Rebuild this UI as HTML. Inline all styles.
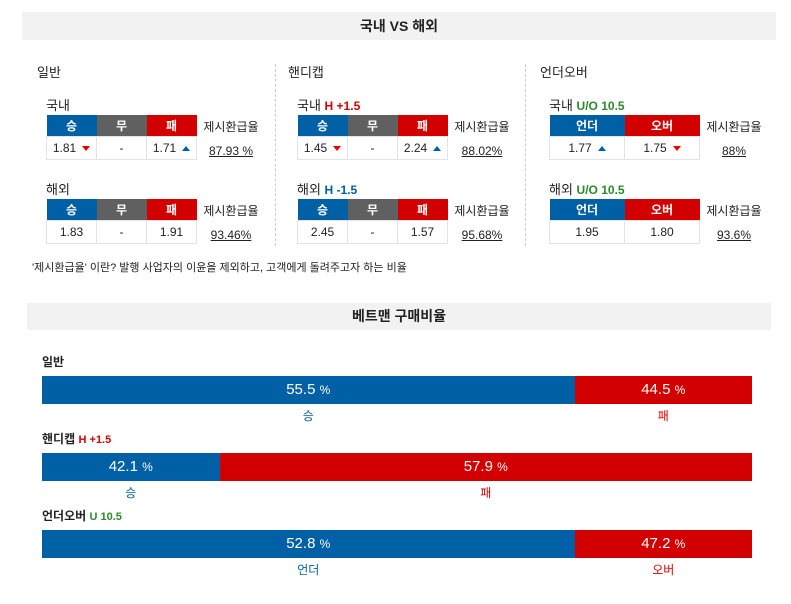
<!DOCTYPE html>
<html><head><meta charset="utf-8"><style>
body{margin:0;width:791px;height:604px;background:#fff;font-family:"Liberation Sans","Noto Sans CJK KR",sans-serif;color:#222;position:relative;overflow:hidden}
.a{position:absolute}
.hdr{background:#f2f2f2;text-align:center;font-weight:bold;font-size:14px}
.sec{font-size:13px}
.sub{font-size:13px}
table{border-collapse:collapse;position:absolute;font-size:12px}
td{border:1px solid #e3e3e3;text-align:center;height:22px;padding:0}
th{color:#fff;font-weight:bold;height:21px;padding:0;font-size:12px}
.b{background:#0060a6}.r{background:#d30000}.g{background:#606060}
.rate{position:absolute;font-size:12px;text-align:center;width:62px}
.rate u{display:inline-block;margin-top:9px}
.up{display:inline-block;width:0;height:0;border-left:4px solid transparent;border-right:4px solid transparent;border-bottom:5px solid #0060a6;margin-left:6px;vertical-align:middle}
.dn{display:inline-block;width:0;height:0;border-left:4px solid transparent;border-right:4px solid transparent;border-top:5px solid #e00;margin-left:6px;vertical-align:middle}
.sep{border-left:1px dashed #ccc;top:64px;height:182px}
</style></head><body>
<div class="a hdr" style="left:22px;top:12px;width:754px;height:28px;line-height:28px">국내 VS 해외</div>
<div class="a sep" style="left:275px"></div>
<div class="a sep" style="left:525px"></div>

<div class="a sec" style="left:37px;top:62px">일반</div>
<div class="a sub" style="left:46px;top:95px">국내</div>
<table style="left:46px;top:115px;width:151px"><tr><th class="b" style="width:50px">승</th><th class="g" style="width:50px">무</th><th class="r">패</th></tr><tr><td>1.81<span class="dn"></span></td><td>-</td><td>1.71<span class="up"></span></td></tr></table>
<div class="rate" style="left:200px;top:118px">제시환급율<br><u>87.93 %</u></div>
<div class="a sub" style="left:46px;top:179px">해외</div>
<table style="left:46px;top:199px;width:151px"><tr><th class="b" style="width:50px">승</th><th class="g" style="width:50px">무</th><th class="r">패</th></tr><tr><td>1.83</td><td>-</td><td>1.91</td></tr></table>
<div class="rate" style="left:200px;top:202px">제시환급율<br><u>93.46%</u></div>

<div class="a sec" style="left:288px;top:62px">핸디캡</div>
<div class="a sub" style="left:297px;top:95px">국내 <b style="color:#d30000;font-size:12px">H +1.5</b></div>
<table style="left:297px;top:115px;width:151px"><tr><th class="b" style="width:50px">승</th><th class="g" style="width:50px">무</th><th class="r">패</th></tr><tr><td>1.45<span class="dn"></span></td><td>-</td><td>2.24<span class="up"></span></td></tr></table>
<div class="rate" style="left:451px;top:118px">제시환급율<br><u>88.02%</u></div>
<div class="a sub" style="left:297px;top:179px">해외 <b style="color:#0060a6;font-size:12px">H -1.5</b></div>
<table style="left:297px;top:199px;width:151px"><tr><th class="b" style="width:50px">승</th><th class="g" style="width:50px">무</th><th class="r">패</th></tr><tr><td>2.45</td><td>-</td><td>1.57</td></tr></table>
<div class="rate" style="left:451px;top:202px">제시환급율<br><u>95.68%</u></div>

<div class="a sec" style="left:540px;top:62px">언더오버</div>
<div class="a sub" style="left:549px;top:95px">국내 <b style="color:#2a8a2a;font-size:12px">U/O 10.5</b></div>
<table style="left:549px;top:115px;width:151px"><tr><th class="b" style="width:75px">언더</th><th class="r">오버</th></tr><tr><td>1.77<span class="up"></span></td><td>1.75<span class="dn"></span></td></tr></table>
<div class="rate" style="left:703px;top:118px">제시환급율<br><u>88%</u></div>
<div class="a sub" style="left:549px;top:179px">해외 <b style="color:#2a8a2a;font-size:12px">U/O 10.5</b></div>
<table style="left:549px;top:199px;width:151px"><tr><th class="b" style="width:75px">언더</th><th class="r">오버</th></tr><tr><td>1.95</td><td>1.80</td></tr></table>
<div class="rate" style="left:703px;top:202px">제시환급율<br><u>93.6%</u></div>

<div class="a" style="left:32px;top:259px;font-size:11px">'제시환급율' 이란? 발행 사업자의 이윤을 제외하고, 고객에게 돌려주고자 하는 비율</div>

<div class="a hdr" style="left:27px;top:303px;width:744px;height:27px;line-height:27px">베트맨 구매비율</div>
<div id="bars"></div>
<script>
var groups=["일반","핸디캡","언더오버"];
var tags=["","H +1.5","U 10.5"];
var leftLabels=["승","승","언더"];
var rightLabels=["패","패","오버"];
var leftValues=[55.5,42.1,52.8];
var rightValues=[44.5,57.9,47.2];
var X0=42,W=710,tops=[376,453,530];
// the site draws the larger share at 3/4 width, the smaller at 1/4
function share(l,r){return l>r?0.75:(l<r?0.25:0.5);}
var c=document.getElementById('bars');
function mk(name,css,html){var d=document.createElement('div');d.className='a';d.style.cssText=css;d.innerHTML=html;


c.appendChild(d);return d;}
groups.forEach(function(g,i){
 var t=tops[i];var tc=i==2?'#2a8a2a':'#d30000';
 mk('bar-group-label-'+i,'left:42px;top:'+(t-23)+'px;font-size:12px;font-weight:bold',g+(tags[i]?' <span style="color:'+tc+';font-size:11px">'+tags[i]+'</span>':''));
 var xl=X0,xm=X0+W*share(leftValues[i],rightValues[i]),xr=X0+W;
 mk('bar-left-'+i,'left:'+xl+'px;top:'+t+'px;width:'+(xm-xl)+'px;height:28px;background:#0060a6;color:#fff;text-align:center;line-height:28px;font-size:15px',leftValues[i].toFixed(1)+' <span style="font-size:12px">%</span>');
 mk('bar-right-'+i,'left:'+xm+'px;top:'+t+'px;width:'+(xr-xm)+'px;height:28px;background:#d30000;color:#fff;text-align:center;line-height:28px;font-size:15px',rightValues[i].toFixed(1)+' <span style="font-size:12px">%</span>');
 mk('bar-left-label-'+i,'left:'+xl+'px;top:'+(t+31)+'px;width:'+(xm-xl)+'px;text-align:center;font-size:12px;color:#0060a6',leftLabels[i]);
 mk('bar-right-label-'+i,'left:'+xm+'px;top:'+(t+31)+'px;width:'+(xr-xm)+'px;text-align:center;font-size:12px;color:#d30000',rightLabels[i]);
});
</script>
</body></html>
